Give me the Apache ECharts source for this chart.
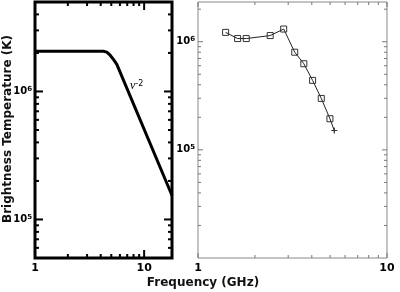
<!DOCTYPE html>
<html><head><meta charset="utf-8">
<script src="https://cdn.jsdelivr.net/npm/echarts@6/dist/echarts.min.js"></script>
<style>html,body{margin:0;padding:0;background:#fff}#c{width:400px;height:292px}</style>
</head><body><div id="c"></div>
<script>
// ---- Left panel: model spectrum ----
var modelFreq = [1, 4.23, 4.55, 4.88, 5.23, 5.62, 18];
var modelTemp = [2.06e6, 2.06e6, 2.03e6, 1.92e6, 1.78e6, 1.63e6, 1.54e5];
// ---- Right panel: observed spectrum ----
var obsFreq = [1.4, 1.62, 1.8, 2.41, 2.84, 3.25, 3.63, 4.04, 4.49, 4.99, 5.26];
var obsTemp = [1.22e6, 1.07e6, 1.07e6, 1.14e6, 1.31e6, 8.0e5, 6.26e5, 4.39e5, 2.99e5, 1.94e5, 1.51e5];
// ---- Tick values / labels ----
var xMajorTicks = [1, 10];
var xMinorTicks = [2, 3, 4, 5, 6, 7, 8, 9];
var xTickLabels = ['1', '10'];
var leftYMajor = [1e5, 1e6];
var leftYMinor = [6e4, 7e4, 8e4, 9e4, 2e5, 3e5, 4e5, 5e5, 6e5, 7e5, 8e5, 9e5, 2e6, 3e6, 4e6];
var rightYMajor = [1e5, 1e6];
var rightYMinor = [2e4, 3e4, 4e4, 5e4, 6e4, 7e4, 8e4, 9e4, 2e5, 3e5, 4e5, 5e5, 6e5, 7e5, 8e5, 9e5, 2e6];
var yTickExp = ['5', '6'];

var PLUS = 'path://M4,0h2v4h4v2h-4v4h-2v-4h-4v-2h4z';

function axisRenderer(p) {
  return function (params, api) {
    var cs = params.coordSys;
    var L = cs.x, R = cs.x + cs.width, T = cs.y, B = cs.y + cs.height;
    var ch = [];
    function ln(x1, y1, x2, y2) {
      ch.push({type: 'line', shape: {x1: x1, y1: y1, x2: x2, y2: y2}, style: {stroke: p.color, lineWidth: p.tw}});
    }
    function xt(v, len) { var x = api.coord([v, p.yRef])[0]; ln(x, B, x, B - len); ln(x, T, x, T + len); }
    function yt(v, len) { var y = api.coord([p.xRef, v])[1]; ln(L, y, L + len, y); ln(R, y, R - len, y); }
    p.xMajor.forEach(function (v) { xt(v, p.major); });
    p.xMinor.forEach(function (v) { xt(v, p.minor); });
    p.yMajor.forEach(function (v) { yt(v, p.major); });
    p.yMinor.forEach(function (v) { yt(v, p.minor); });
    p.xMajor.forEach(function (v, i) {
      var x = api.coord([v, p.yRef])[0];
      ch.push({type: 'text', x: x, y: B + 5, style: {text: p.xLabels[i], fontSize: 11, fontWeight: 'bold', fontFamily: 'DejaVu Sans', fill: '#000', align: 'center', verticalAlign: 'top'}});
    });
    p.yMajor.forEach(function (v, i) {
      var y = api.coord([p.xRef, v])[1];
      ch.push({type: 'text', x: L - 3, y: y, style: {
        text: '{a|10}{b|' + p.yExp[i] + '}',
        rich: {
          a: {fontSize: 10, fontWeight: 'bold', fontFamily: 'DejaVu Sans', fill: '#000', lineHeight: 12},
          b: {fontSize: 7, fontWeight: 'bold', fontFamily: 'DejaVu Sans', fill: '#000', verticalAlign: 'top', lineHeight: 12}
        },
        align: 'right', verticalAlign: 'middle'}});
    });
    return {type: 'group', children: ch};
  };
}

var chart = echarts.init(document.getElementById('c'), null, {renderer: 'canvas'});
chart.setOption({
  animation: false,
  backgroundColor: '#fff',
  grid: [
    {left: 35, top: 2, width: 137, height: 256, show: true, borderColor: '#000', borderWidth: 3, backgroundColor: 'transparent'},
    {left: 198, top: 2, width: 189, height: 256, show: true, borderColor: '#888', borderWidth: 1, backgroundColor: 'transparent'}
  ],
  xAxis: [
    {type: 'log', logBase: 10, gridIndex: 0, min: 1, max: 18, axisLine: {show: false}, axisTick: {show: false}, axisLabel: {show: false}, splitLine: {show: false}},
    {type: 'log', logBase: 10, gridIndex: 1, min: 1, max: 10, axisLine: {show: false}, axisTick: {show: false}, axisLabel: {show: false}, splitLine: {show: false}}
  ],
  yAxis: [
    {type: 'log', logBase: 10, gridIndex: 0, min: 5e4, max: 5e6, axisLine: {show: false}, axisTick: {show: false}, axisLabel: {show: false}, splitLine: {show: false}},
    {type: 'log', logBase: 10, gridIndex: 1, min: 1e4, max: 2.33e6, axisLine: {show: false}, axisTick: {show: false}, axisLabel: {show: false}, splitLine: {show: false}}
  ],
  graphic: [
    {type: 'text', x: 8, y: 129, rotation: Math.PI / 2, style: {text: 'Brightness Temperature (K)', fontSize: 12, fontWeight: 'bold', fontFamily: 'DejaVu Sans', fill: '#111', align: 'center', verticalAlign: 'middle'}},
    {type: 'text', x: 203, y: 283, style: {text: 'Frequency (GHz)', fontSize: 12, fontWeight: 'bold', fontFamily: 'DejaVu Sans', fill: '#111', align: 'center', verticalAlign: 'middle'}},
    {type: 'text', x: 130, y: 86, style: {text: '{n|ν}{s|-2}', rich: {
      n: {fontSize: 12, fontStyle: 'italic', fontFamily: 'Liberation Serif', fill: '#000', lineHeight: 12},
      s: {fontSize: 8, fontFamily: 'DejaVu Sans', fill: '#000', verticalAlign: 'top', lineHeight: 12}
    }, align: 'left', verticalAlign: 'middle'}}
  ],
  series: [
    {type: 'line', xAxisIndex: 0, yAxisIndex: 0, data: modelFreq.map(function (f, i) { return [f, modelTemp[i]]; }),
      showSymbol: false, symbol: 'none', lineStyle: {color: '#000', width: 3}, clip: true},
    {type: 'line', xAxisIndex: 1, yAxisIndex: 1,
      data: obsFreq.map(function (f, i) {
        var d = {value: [f, obsTemp[i]]};
        if (i === obsFreq.length - 1) { d.symbol = PLUS; d.symbolSize = 6; d.itemStyle = {color: '#333', borderWidth: 0}; }
        return d;
      }),
      symbol: 'rect', symbolSize: 6, showAllSymbol: true,
      itemStyle: {color: 'transparent', borderColor: '#333', borderWidth: 1},
      lineStyle: {color: '#222', width: 1}},
    {type: 'custom', xAxisIndex: 0, yAxisIndex: 0, clip: false, silent: true, data: [[2, 1e5]],
      renderItem: axisRenderer({color: '#000', tw: 2, major: 8, minor: 4, xRef: 2, yRef: 1e5,
        xMajor: xMajorTicks, xMinor: xMinorTicks, yMajor: leftYMajor, yMinor: leftYMinor, xLabels: xTickLabels, yExp: yTickExp})},
    {type: 'custom', xAxisIndex: 1, yAxisIndex: 1, clip: false, silent: true, data: [[2, 1e5]],
      renderItem: axisRenderer({color: '#777', tw: 1, major: 5, minor: 3, xRef: 2, yRef: 1e5,
        xMajor: xMajorTicks, xMinor: xMinorTicks, yMajor: rightYMajor, yMinor: rightYMinor, xLabels: xTickLabels, yExp: yTickExp})}
  ]
});
</script>
</body></html>
